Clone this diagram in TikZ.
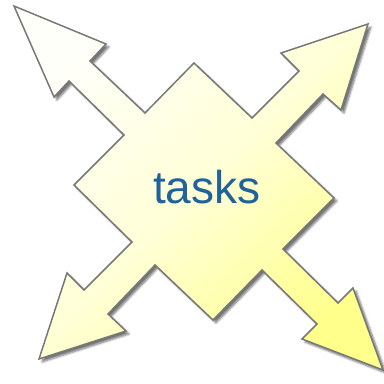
\documentclass[tikz,border=0pt]{standalone}
\usepackage{fontspec}
\setmainfont{Liberation Sans}
\usetikzlibrary{shadows.blur}
\definecolor{txtblue}{RGB}{31,98,156}
\definecolor{lightc}{RGB}{255,255,250}
\definecolor{midc}{RGB}{255,255,215}
\definecolor{darkc}{RGB}{255,255,140}
\definecolor{edgec}{RGB}{120,120,120}
\tikzset{
  shapestyle/.style={draw=edgec, line width=1.5pt, line join=miter,
    top color=lightc, bottom color=darkc, middle color=midc, shading angle=45,
    blur shadow={shadow xshift=3pt, shadow yshift=-3pt, shadow blur steps=5, shadow opacity=55}},
  labelstyle/.style={text=txtblue, font=\fontsize{46}{46}\selectfont, inner sep=0pt}
}
\begin{document}
\begin{tikzpicture}[x=1pt,y=-1pt]
\useasboundingbox (0,0) rectangle (384,384);
\path[shapestyle]
 (194,63) -- (252,118) -- (299,71) -- (281,53) -- (368,24) -- (341,110) -- (323,94) -- (276,143)
 -- (334,198) -- (283,249) -- (338,303) -- (353,288) -- (383,370) -- (302,339) -- (317,324) -- (262,270)
 -- (213,320) -- (155,265) -- (108,314) -- (126,331) -- (39,359) -- (67,273) -- (84,290) -- (132,242)
 -- (74,185) -- (124,135) -- (69,81) -- (54,97) -- (14,6) -- (106,44) -- (90,61) -- (145,113) -- cycle;
\node[labelstyle, anchor=base] (lbl) at (206.7,203.3) {tasks};
\end{tikzpicture}
\end{document}
